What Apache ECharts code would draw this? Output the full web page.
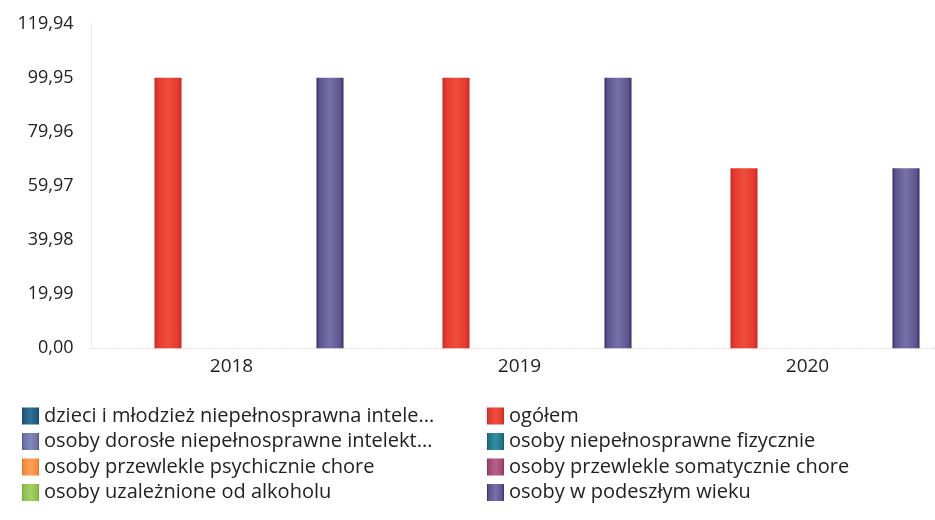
<!DOCTYPE html>
<html>
<head>
<meta charset="utf-8">
<style>
  html, body { margin: 0; padding: 0; background: #ffffff; }
  #chart { width: 935px; height: 520px; }
</style>
<script src="https://cdn.jsdelivr.net/npm/echarts@6/dist/echarts.min.js"></script>
</head>
<body>
<div id="chart"></div>
<script>
// Years on the category axis
const years = ['2018', '2019', '2020'];

// Group names, in legend order
const groupNames = [
  'dzieci i młodzież niepełnosprawna intelektualnie',
  'ogółem',
  'osoby dorosłe niepełnosprawne intelektualnie',
  'osoby niepełnosprawne fizycznie',
  'osoby przewlekle psychicznie chore',
  'osoby przewlekle somatycznie chore',
  'osoby uzależnione od alkoholu',
  'osoby w podeszłym wieku'
];

// Shortened legend captions for the two long names
const shortCaptions = {
  'dzieci i młodzież niepełnosprawna intelektualnie': 'dzieci i młodzież niepełnosprawna intele...',
  'osoby dorosłe niepełnosprawne intelektualnie': 'osoby dorosłe niepełnosprawne intelekt...'
};

// Values per group and year
const dzieciMlodziez = [0, 0, 0];
const ogolem = [99.95, 99.95, 66.5];
const doroslIntelekt = [0, 0, 0];
const fizycznie = [0, 0, 0];
const psychicznie = [0, 0, 0];
const somatycznie = [0, 0, 0];
const alkohol = [0, 0, 0];
const podeszlyWiek = [99.95, 99.95, 66.5];

// Value axis ticks
const yMax = 119.94;
const yStep = 19.99;

const seriesValues = [dzieciMlodziez, ogolem, doroslIntelekt, fizycznie,
  psychicznie, somatycznie, alkohol, podeszlyWiek];

// Base colour, lighter centre and darker edge for each group
const palette = [
  ['#1f5a78', '#2f7196', '#123f58'],
  ['#e2382e', '#ef4d3c', '#c4231c'],
  ['#6a73a6', '#8088ba', '#474f86'],
  ['#1f7486', '#3090a2', '#12576a'],
  ['#f58a3c', '#fba257', '#df6d22'],
  ['#a04870', '#b8608a', '#7e2f55'],
  ['#8cc04c', '#a3d064', '#6ea233'],
  ['#5c538e', '#7870a8', '#2c2b6c']
];

function barStyle(i) {
  const c = palette[i];
  return {
    color: {
      type: 'linear', x: 0, y: 0, x2: 1, y2: 0,
      colorStops: [
        { offset: 0, color: c[2] },
        { offset: 0.1, color: c[0] },
        { offset: 0.5, color: c[1] },
        { offset: 0.9, color: c[0] },
        { offset: 1, color: c[2] }
      ]
    }
  };
}

const series = groupNames.map((name, i) => ({
  name: name,
  type: 'bar',
  data: seriesValues[i],
  barWidth: 27,
  barGap: '0%',
  itemStyle: barStyle(i),
  emphasis: { disabled: true }
}));

const legendBase = {
  orient: 'vertical',
  icon: 'rect',
  itemWidth: 17,
  itemHeight: 17,
  itemGap: 5.5,
  formatter: name => shortCaptions[name] || name,
  textStyle: { fontFamily: 'Open Sans', fontSize: 20, color: '#222222' },
  selectedMode: false
};

const chart = echarts.init(document.getElementById('chart'), null, { renderer: 'canvas' });

chart.setOption({
  animation: false,
  backgroundColor: '#ffffff',
  color: palette.map(c => c[0]),
  grid: {
    left: 91.5, top: 23.6, width: 864, height: 324.7,
    containLabel: false, outerBoundsMode: 'none'
  },
  legend: [
    Object.assign({}, legendBase, {
      left: 17, top: 401,
      data: [groupNames[0], groupNames[2], groupNames[4], groupNames[6]]
    }),
    Object.assign({}, legendBase, {
      left: 482, top: 401,
      data: [groupNames[1], groupNames[3], groupNames[5], groupNames[7]]
    })
  ],
  xAxis: {
    type: 'category',
    data: years,
    axisLine: { show: true, lineStyle: { color: '#e4e4ea', type: 'dashed', width: 1 } },
    axisTick: { show: false },
    axisLabel: {
      fontFamily: 'Open Sans', fontSize: 19, color: '#222222',
      margin: 9, padding: [0, 8, 0, 0]
    },
    splitLine: { show: false }
  },
  yAxis: {
    type: 'value',
    min: 0,
    max: yMax,
    interval: yStep,
    axisLine: { show: true, lineStyle: { color: '#ececf2', width: 1 } },
    axisTick: { show: false },
    splitLine: { show: false },
    axisLabel: {
      fontFamily: 'Open Sans', fontSize: 18, color: '#222222', margin: 18,
      formatter: v => v.toFixed(2).replace('.', ',')
    }
  },
  series: series
});
</script>
</body>
</html>
